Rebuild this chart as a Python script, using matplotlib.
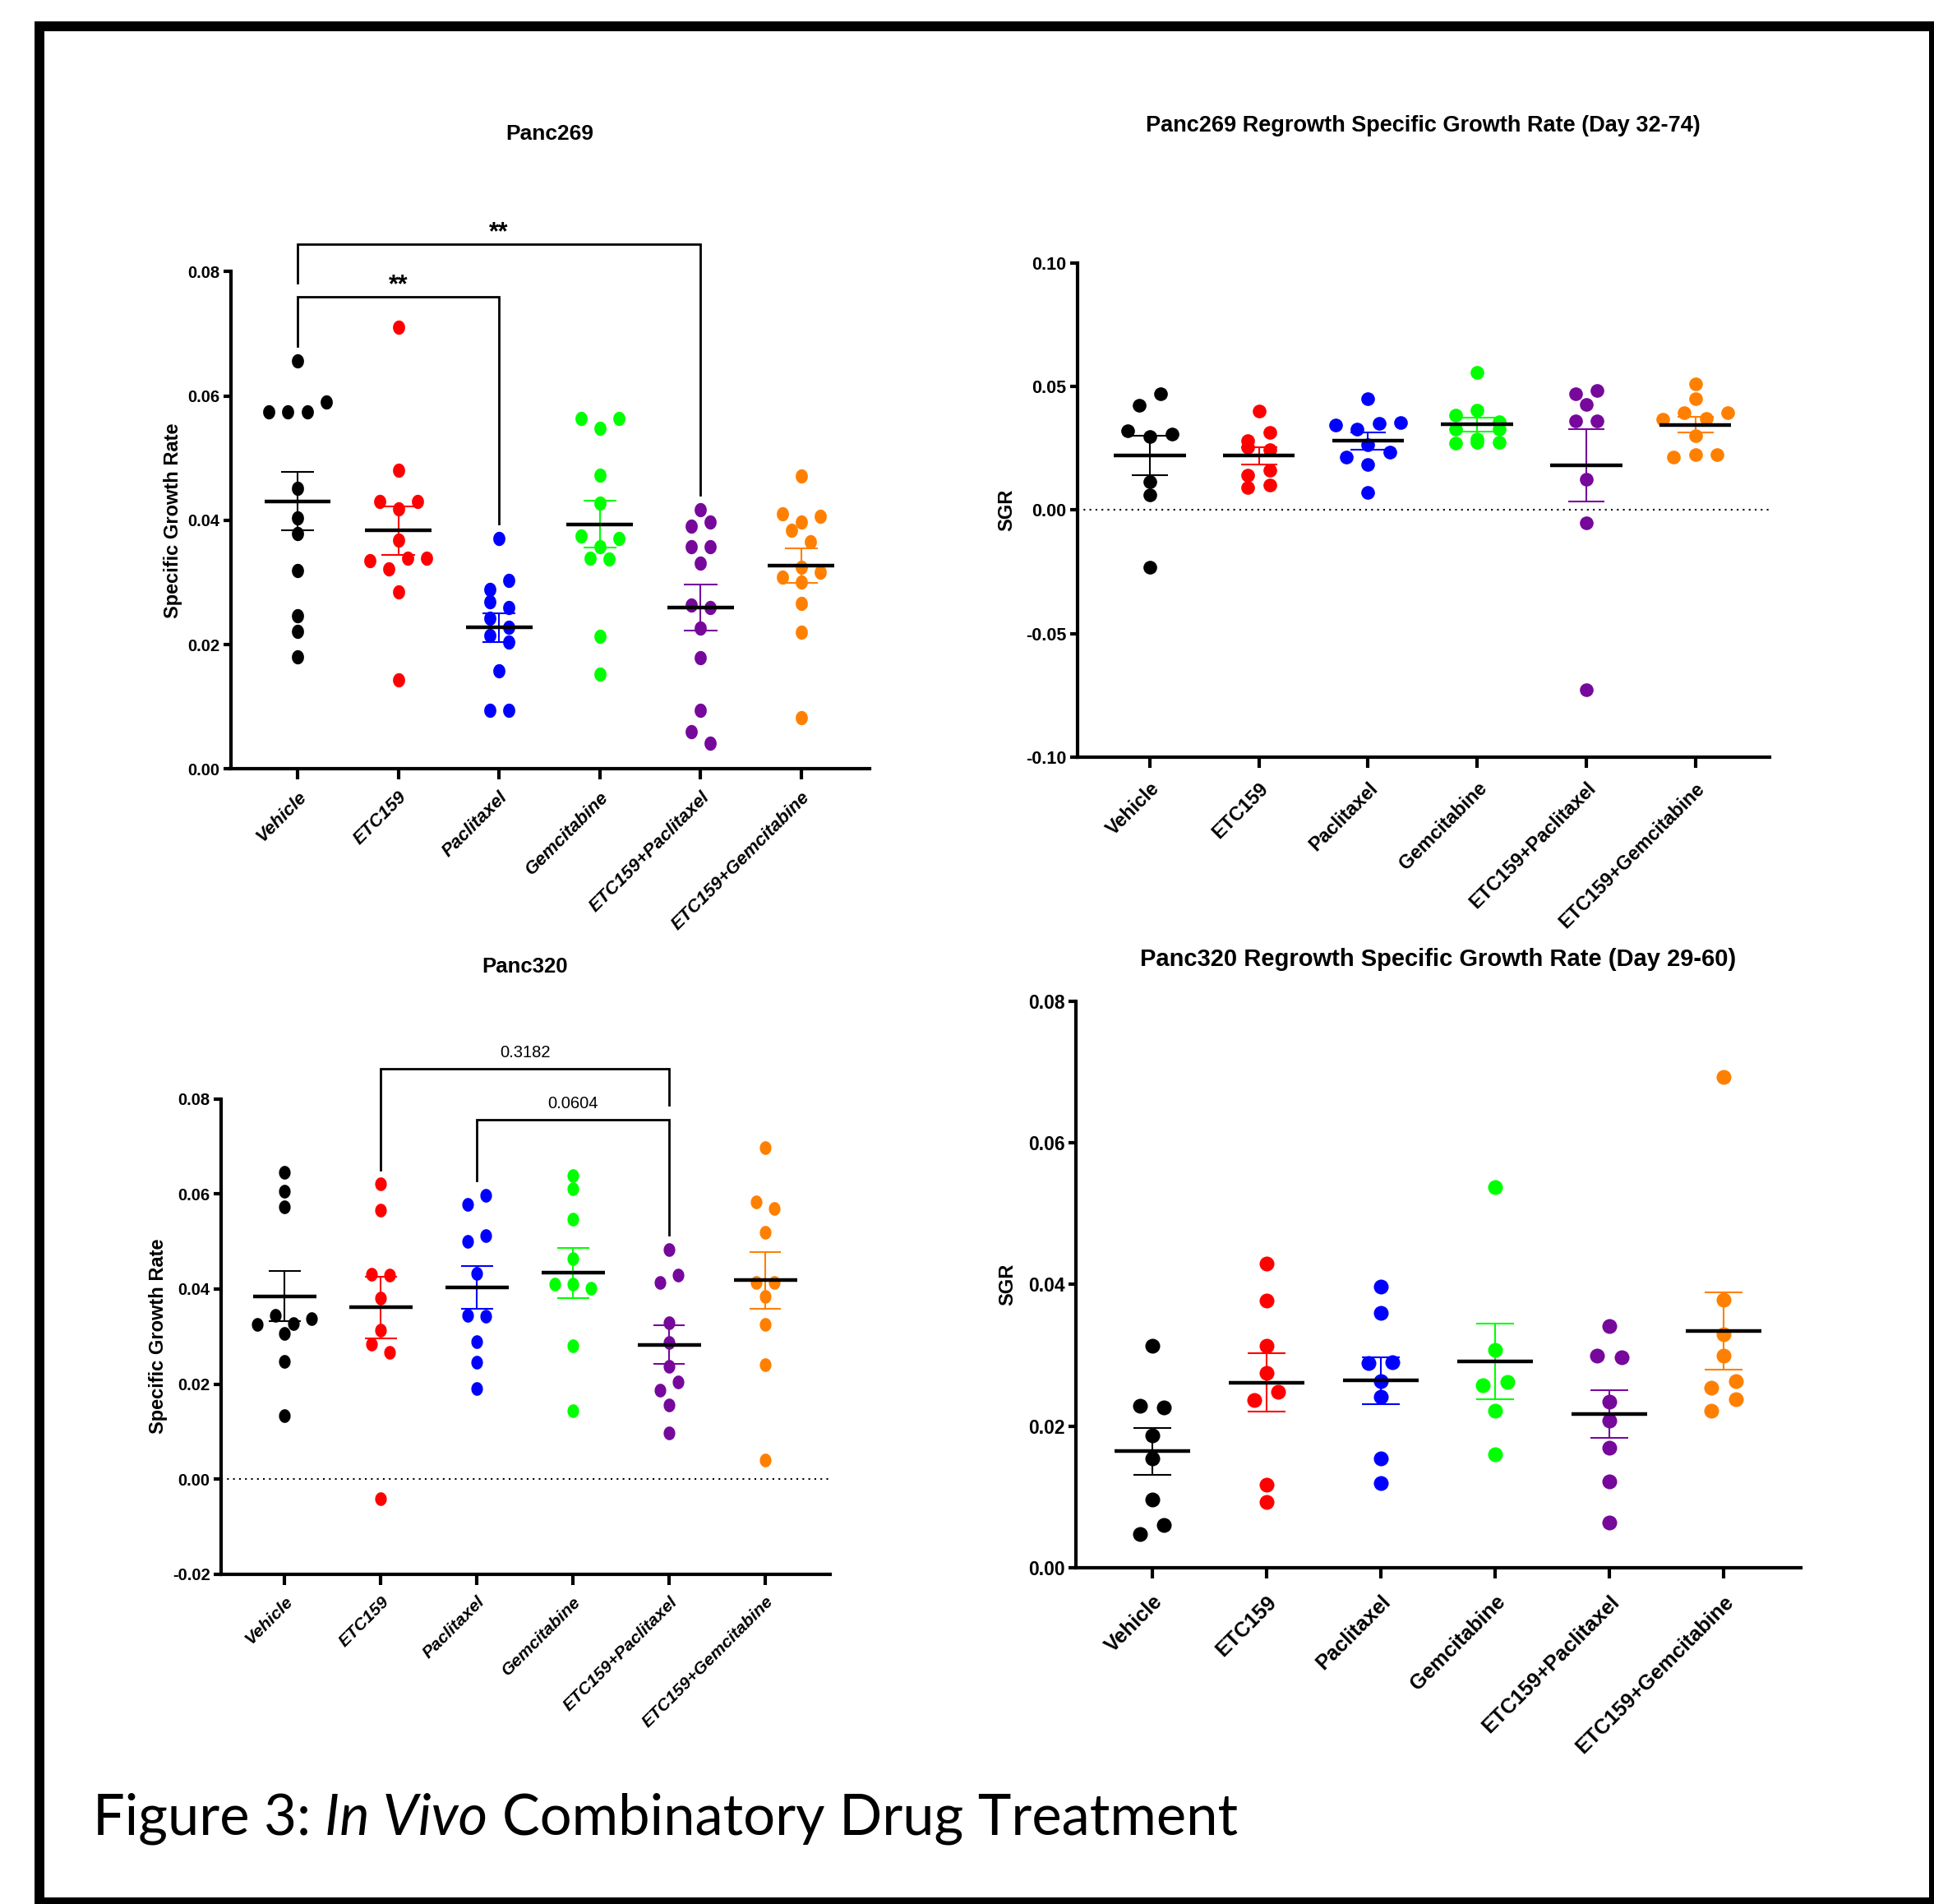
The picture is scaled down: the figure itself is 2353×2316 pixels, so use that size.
import numpy as np
import matplotlib
matplotlib.use("Agg")
import matplotlib.pyplot as plt
from matplotlib import font_manager as fm
from matplotlib.lines import Line2D
from matplotlib.path import Path

# ---------------- data ----------------
groups = ["Vehicle", "ETC159", "Paclitaxel", "Gemcitabine",
          "ETC159+Paclitaxel", "ETC159+Gemcitabine"]
colors = ["#000000", "#FF0000", "#0000FF", "#00FF00", "#76089C", "#FF8000"]

# Panc269 specific growth rate
p1_vehicle = [0.0657, 0.0574, 0.0574, 0.0574, 0.0590, 0.0452, 0.0404, 0.0378, 0.0319, 0.0247, 0.0221, 0.0180]
p1_etc = [0.0710, 0.0481, 0.0430, 0.0418, 0.0430, 0.0368, 0.0335, 0.0322, 0.0339, 0.0339, 0.0285, 0.0143]
p1_pac = [0.0371, 0.0289, 0.0303, 0.0269, 0.0259, 0.0243, 0.0228, 0.0215, 0.0204, 0.0158, 0.0094, 0.0094]
p1_gem = [0.0564, 0.0548, 0.0564, 0.0472, 0.0427, 0.0375, 0.0357, 0.0371, 0.0339, 0.0338, 0.0213, 0.0152]
p1_ep = [0.0417, 0.0390, 0.0397, 0.0358, 0.0358, 0.0331, 0.0263, 0.0259, 0.0227, 0.0179, 0.0094, 0.0060, 0.0041]
p1_eg = [0.0471, 0.0410, 0.0397, 0.0407, 0.0384, 0.0365, 0.0308, 0.0324, 0.0316, 0.0301, 0.0266, 0.0220, 0.0082]

# Panc269 regrowth SGR (day 32-74)
p2_vehicle = [0.0423, 0.0472, 0.0322, 0.0299, 0.0307, 0.0115, 0.0061, -0.0231]
p2_etc = [0.0400, 0.0281, 0.0315, 0.0253, 0.0245, 0.0141, 0.0162, 0.0091, 0.0100]
p2_pac = [0.0450, 0.0343, 0.0328, 0.0352, 0.0354, 0.0215, 0.0263, 0.0235, 0.0185, 0.0072]
p2_gem = [0.0556, 0.0385, 0.0404, 0.0358, 0.0328, 0.0286, 0.0328, 0.0270, 0.0274, 0.0274]
p2_ep = [0.0469, 0.0485, 0.0426, 0.0361, 0.0361, 0.0126, -0.0053, -0.0726]
p2_eg = [0.0512, 0.0450, 0.0368, 0.0394, 0.0371, 0.0394, 0.0300, 0.0215, 0.0224, 0.0224]

# Panc320 specific growth rate
p3_vehicle = [0.0646, 0.0605, 0.0573, 0.0325, 0.0344, 0.0327, 0.0337, 0.0307, 0.0248, 0.0133]
p3_etc = [0.0621, 0.0565, 0.0431, 0.0429, 0.0381, 0.0313, 0.0284, 0.0267, -0.0041]
p3_pac = [0.0578, 0.0597, 0.0500, 0.0513, 0.0433, 0.0344, 0.0343, 0.0290, 0.0246, 0.0190]
p3_gem = [0.0638, 0.0611, 0.0547, 0.0463, 0.0410, 0.0411, 0.0401, 0.0280, 0.0144]
p3_ep = [0.0483, 0.0413, 0.0430, 0.0329, 0.0288, 0.0238, 0.0187, 0.0204, 0.0156, 0.0098]
p3_eg = [0.0697, 0.0583, 0.0570, 0.0519, 0.0413, 0.0413, 0.0384, 0.0326, 0.0240, 0.0040]

# Panc320 regrowth SGR (day 29-60)
p4_vehicle = [0.0314, 0.0229, 0.0227, 0.0187, 0.0154, 0.0096, 0.0048, 0.0060]
p4_etc = [0.0430, 0.0377, 0.0314, 0.0275, 0.0237, 0.0249, 0.0117, 0.0093]
p4_pac = [0.0397, 0.0360, 0.0289, 0.0290, 0.0264, 0.0241, 0.0154, 0.0120]
p4_gem = [0.0537, 0.0308, 0.0258, 0.0262, 0.0222, 0.0160]
p4_ep = [0.0341, 0.0299, 0.0297, 0.0235, 0.0208, 0.0170, 0.0122, 0.0064]
p4_eg = [0.0693, 0.0378, 0.0330, 0.0299, 0.0254, 0.0263, 0.0222, 0.0238]

# significance brackets: (group a, group b, bracket height, label)
p1_brackets = [(0, 2, 0.0759, "**"), (0, 4, 0.0844, "**")]
p3_brackets = [(1, 4, 0.0863, "0.3182"), (2, 4, 0.0756, "0.0604")]

titles = ["Panc269", "Panc269 Regrowth Specific Growth Rate (Day 32-74)",
          "Panc320", "Panc320 Regrowth Specific Growth Rate (Day 29-60)"]
ylabels = ["Specific Growth Rate", "SGR", "Specific Growth Rate", "SGR"]
caption_parts = ["Figure 3:", "In Vivo", "Combinatory Drug Treatment"]

# ---------------- style / layout ----------------
W, H = 2353, 2316
plt.rcParams["font.family"] = ["Liberation Sans", "DejaVu Sans"]
names = {f.name for f in fm.fontManager.ttflist}
NARROW = "Liberation Sans Narrow" if "Liberation Sans Narrow" in names else None
CAPFONT = "Lato" if "Lato" in names else "Open Sans"

fig = plt.figure(figsize=(W / 100, H / 100), dpi=100)
fig.patch.set_facecolor("white")

theta = np.linspace(0, 2 * np.pi, 64)
ELLIPSE = Path(np.column_stack([0.85 * np.cos(theta), np.sin(theta)]), closed=True)

panels = [
    dict(data=[p1_vehicle, p1_etc, p1_pac, p1_gem, p1_ep, p1_eg],
         rect=(280.5, 1058, 330.4, 935.3), ylim=(0, 0.08),
         yticks=[0, 0.02, 0.04, 0.06, 0.08], ylab_x=210, title_xy=(669, 170),
         title_size=19, xt_size=16, xt_style="italic", xt_pad=8,
         yt_size=(16.5, 14.5), marker=ELLIPSE, ms=12.5, step=0.188,
         zero=False, brackets=p1_brackets),
    dict(data=[p2_vehicle, p2_etc, p2_pac, p2_gem, p2_ep, p2_eg],
         rect=(1310.7, 2152.6, 319.9, 921), ylim=(-0.1, 0.1),
         yticks=[-0.1, -0.05, 0, 0.05, 0.1], ylab_x=1225, title_xy=(1731, 160),
         title_size=19.5, xt_size=16.8, xt_style="normal", xt_pad=10,
         yt_size=(17, 15.5), marker="o", ms=12.0, step=0.2,
         zero=True, brackets=[]),
    dict(data=[p3_vehicle, p3_etc, p3_pac, p3_gem, p3_ep, p3_eg],
         rect=(268.7, 1010.4, 1336.5, 1915), ylim=(-0.02, 0.08),
         yticks=[-0.02, 0, 0.02, 0.04, 0.06, 0.08], ylab_x=192, title_xy=(639, 1183),
         title_size=18.5, xt_size=15.2, xt_style="italic", xt_pad=8,
         yt_size=(16, 14.5), marker=ELLIPSE, ms=12.0, step=0.188,
         zero=True, brackets=p3_brackets),
    dict(data=[p4_vehicle, p4_etc, p4_pac, p4_gem, p4_ep, p4_eg],
         rect=(1309.3, 2191.3, 1217.8, 1907.1), ylim=(0, 0.08),
         yticks=[0, 0.02, 0.04, 0.06, 0.08], ylab_x=1226, title_xy=(1750, 1175),
         title_size=21, xt_size=18.3, xt_style="normal", xt_pad=12,
         yt_size=(18.5, 16.5), marker="o", ms=13.0, step=0.21,
         zero=False, brackets=[]),
]


def swarm_offsets(vals, thr, step):
    vals = np.asarray(vals, dtype=float)
    order = np.argsort(-vals, kind="stable")
    rows, cur = [], [order[0]]
    for idx in order[1:]:
        if vals[cur[0]] - vals[idx] < thr:
            cur.append(idx)
        else:
            rows.append(cur)
            cur = [idx]
    rows.append(cur)
    offs = np.zeros(len(vals))
    for row in rows:
        row = sorted(row)
        n = len(row)
        for k, idx in enumerate(row):
            offs[idx] = (k - (n - 1) / 2) * step
    return offs


for pi, cfg in enumerate(panels):
    l, r, t, b = cfg["rect"]
    ax = fig.add_axes([l / W, 1 - b / H, (r - l) / W, (b - t) / H])
    ax.set_facecolor("none")
    y0, y1 = cfg["ylim"]
    ax.set_xlim(-0.665, 5.678)
    ax.set_ylim(y0, y1)
    ppu = (b - t) / (y1 - y0)
    thr = 15.0 / ppu
    gap = 17.5 / ppu

    if cfg["zero"]:
        ax.axhline(0, color="black", lw=1.5, ls=(0, (1, 2.5)), zorder=1)

    for i, (vals, c) in enumerate(zip(cfg["data"], colors)):
        vals = np.asarray(vals, dtype=float)
        offs = swarm_offsets(vals, thr, cfg["step"])
        ax.plot(i + offs, vals, ls="none", marker=cfg["marker"], ms=cfg["ms"],
                mfc=c, mec=c, mew=0, zorder=3, clip_on=False)
        m = vals.mean()
        sem = vals.std(ddof=1) / np.sqrt(len(vals))
        ax.vlines(i, m - sem, m + sem, color=c, lw=1.5, zorder=4)
        ax.hlines([m - sem, m + sem], i - 0.165, i + 0.165, color=c, lw=1.5, zorder=4)
        ax.hlines(m, i - 0.33, i + 0.33, color="black", lw=3.2, zorder=5)

    # significance brackets
    for (a, bb, h, lab) in cfg["brackets"]:
        def leg_bottom(x, h=h):
            base = max(cfg["data"][x])
            for (a2, b2, h2, _) in cfg["brackets"]:
                if h2 < h and a2 <= x <= b2:
                    base = max(base, h2)
            return base + gap
        ax.plot([a, a, bb, bb], [leg_bottom(a), h, h, leg_bottom(bb)], color="black",
                lw=2.0, clip_on=False, solid_joinstyle="miter", zorder=6)
        if lab.startswith("*"):
            ax.annotate(lab, xy=((a + bb) / 2, h), xytext=(0, 4.5), textcoords="offset points",
                        ha="center", va="baseline", fontsize=22, fontweight="bold",
                        annotation_clip=False)
        else:
            ax.annotate(lab, xy=((a + bb) / 2, h), xytext=(0, 10), textcoords="offset points",
                        ha="center", va="baseline",
                        fontsize=16 if NARROW else 14.5,
                        family=[NARROW or "Liberation Sans", "DejaVu Sans"],
                        annotation_clip=False)

    # axes styling
    for s in ("top", "right"):
        ax.spines[s].set_visible(False)
    for s in ("left", "bottom"):
        ax.spines[s].set_linewidth(3)
    ax.tick_params(axis="y", direction="out", length=6.5, width=3, pad=3)
    ax.tick_params(axis="x", direction="out", length=9, width=3, pad=cfg["xt_pad"])
    ax.set_yticks(cfg["yticks"], labels=["%.2f" % v for v in cfg["yticks"]],
                  fontsize=cfg["yt_size"][0] if NARROW else cfg["yt_size"][1],
                  fontweight="bold", family=[NARROW or "Liberation Sans", "DejaVu Sans"])
    ax.set_xticks(range(len(groups)), labels=groups, rotation=45, ha="right", va="top",
                  rotation_mode="anchor", fontsize=cfg["xt_size"], fontweight="bold",
                  fontstyle=cfg["xt_style"])
    ax.set_ylabel(ylabels[pi], fontsize=17, fontweight="bold", va="center")
    ax.yaxis.set_label_coords((cfg["ylab_x"] - l) / (r - l), 0.5)

    tx, ty = cfg["title_xy"]
    fig.text(tx / W, 1 - ty / H, titles[pi], ha="center", va="baseline",
             fontsize=cfg["title_size"], fontweight="bold")

# ---------------- caption ----------------
renderer = fig.canvas.get_renderer()
styles = ["normal", "italic", "normal"]


def text_w(s, size, style):
    tt = fig.text(0, 0, s, fontsize=size, family=CAPFONT, style=style)
    w = tt.get_window_extent(renderer).width
    tt.remove()
    return w


base = 40.0
space = text_w("n n", base, "normal") - text_w("nn", base, "normal")
total = sum(text_w(p, base, st) for p, st in zip(caption_parts, styles)) + 2 * space
size = base * 1392.0 / total
space = text_w("n n", size, "normal") - text_w("nn", size, "normal")
x = 112.6
for p, st in zip(caption_parts, styles):
    tt = fig.text(x / W, 1 - 2232 / H, p, fontsize=size, family=CAPFONT, style=st,
                  ha="left", va="baseline")
    x += tt.get_window_extent(renderer).width + space

# ---------------- frame ----------------
def fline(x0, y0, x1, y1, lw_px):
    fig.add_artist(Line2D([x0 / W, x1 / W], [1 - y0 / H, 1 - y1 / H], transform=fig.transFigure,
                          color="black", lw=lw_px * 0.72, solid_capstyle="projecting"))


fline(48, 32, 48, H, 12)
fline(48, 32, W, 32, 12)
fline(2350, 32, 2350, H, 6)
fline(48, 2312, W, 2312, 8)

fig.savefig("out.png", dpi=100, facecolor="white")
